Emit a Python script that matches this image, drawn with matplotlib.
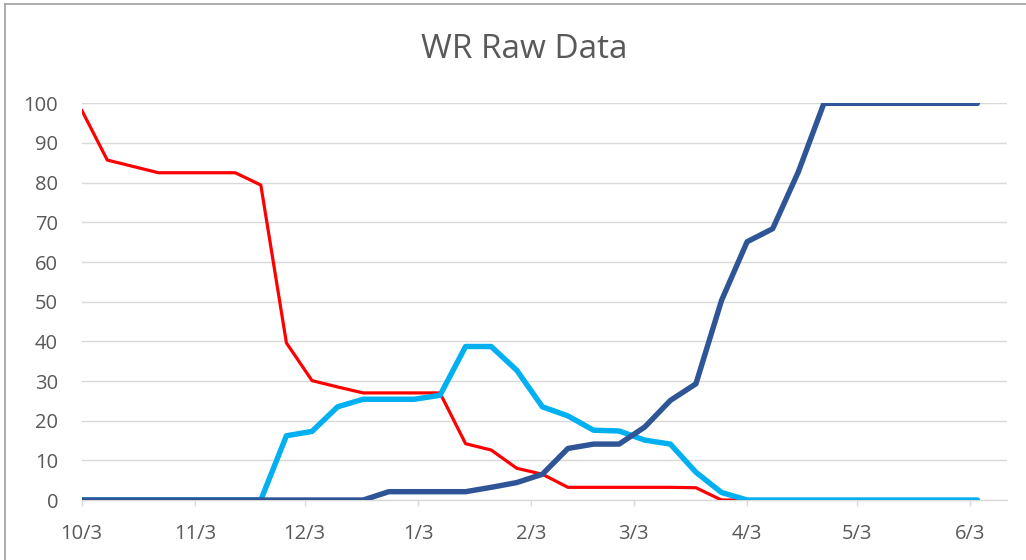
import datetime as dt
import matplotlib
matplotlib.use("Agg")
import matplotlib.pyplot as plt
from matplotlib.lines import Line2D

# weekly readings starting 10/3
start = dt.date(2022, 10, 3)
n_weeks = 36
dates = [start + dt.timedelta(weeks=i) for i in range(n_weeks)]

red_vals = [98.3, 85.7, 84.1, 82.5, 82.5, 82.5, 82.5, 79.4, 39.6, 30.1,
            28.5, 27.0, 27.0, 27.0, 27.0, 14.2, 12.6, 8.0, 6.5, 3.2,
            3.2, 3.2, 3.2, 3.2, 3.1, 0, 0, 0, 0, 0,
            0, 0, 0, 0, 0, 0]
cyan_vals = [0, 0, 0, 0, 0, 0, 0, 0, 16.2, 17.3,
             23.5, 25.4, 25.4, 25.4, 26.4, 38.7, 38.7, 32.7, 23.5, 21.2,
             17.6, 17.4, 15.1, 14.1, 7.0, 1.9, 0, 0, 0, 0,
             0, 0, 0, 0, 0, 0]
navy_vals = [0, 0, 0, 0, 0, 0, 0, 0, 0, 0,
             0, 0, 2.1, 2.1, 2.1, 2.1, 3.2, 4.4, 6.5, 13.0,
             14.1, 14.1, 18.4, 25.1, 29.3, 50.3, 65.1, 68.4, 82.7, 100,
             100, 100, 100, 100, 100, 100]

tick_dates = [dt.date(2022, 10, 3), dt.date(2022, 11, 3), dt.date(2022, 12, 3),
              dt.date(2023, 1, 3), dt.date(2023, 2, 3), dt.date(2023, 3, 3),
              dt.date(2023, 4, 3), dt.date(2023, 5, 3), dt.date(2023, 6, 3)]
tick_labels = [f"{d.month}/{d.day}" for d in tick_dates]

txt = "#595959"
grid = "#D9D9D9"
plt.rcParams['font.family'] = ['Open Sans', 'DejaVu Sans']

fig = plt.figure(figsize=(10.26, 5.6), dpi=100)
ax = fig.add_axes([0.0796, 0.1071, 0.9016, 0.7084])

ax.plot(dates, red_vals, color="#FF0000", lw=2.3, solid_capstyle="round", solid_joinstyle="round", zorder=3)
ax.plot(dates, cyan_vals, color="#00B0F0", lw=3.9, solid_capstyle="round", solid_joinstyle="round", zorder=4)
ax.plot(dates, navy_vals, color="#2F5597", lw=3.9, solid_capstyle="round", solid_joinstyle="round", zorder=5)

ax.set_ylim(0, 100)
ax.set_xlim(start, start + dt.timedelta(days=253))
ax.set_yticks(range(0, 101, 10))
ax.set_xticks(tick_dates)
ax.set_xticklabels(tick_labels)
ax.yaxis.grid(True, color=grid, lw=1.0)
ax.set_axisbelow(True)
for s in ["top", "right", "left"]:
    ax.spines[s].set_visible(False)
ax.spines["bottom"].set_color(grid)
ax.spines["bottom"].set_linewidth(1.0)
ax.tick_params(axis="y", length=0, pad=17, labelsize=14.5, labelcolor=txt)
ax.tick_params(axis="x", length=4, color=grid, width=1.0, pad=13, labelsize=14.5, labelcolor=txt)
ax.patch.set_alpha(0)

fig.text(0.5107, 0.912, "WR Raw Data", ha="center", va="center", fontsize=24, color=txt)

# chart border (left and top)
fig.add_artist(Line2D([0.005, 0.005], [0, 0.993], transform=fig.transFigure, color="#A0A0A0", lw=1.2))
fig.add_artist(Line2D([0.005, 1.0], [0.993, 0.993], transform=fig.transFigure, color="#A0A0A0", lw=1.2))

fig.savefig("out.png", dpi=100)
